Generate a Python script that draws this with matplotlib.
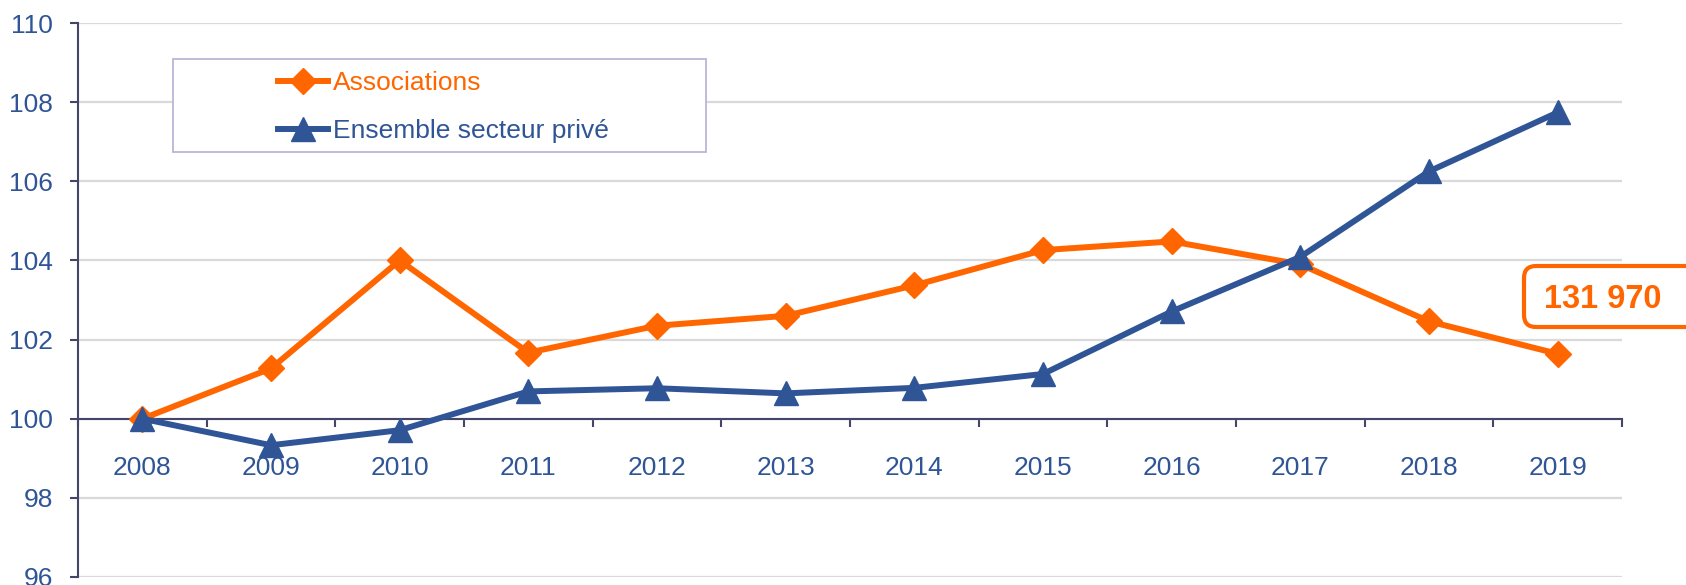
import matplotlib
matplotlib.use("Agg")
import matplotlib.pyplot as plt
from matplotlib.patches import Rectangle, FancyBboxPatch
from matplotlib.transforms import IdentityTransform

years = ['2008', '2009', '2010', '2011', '2012', '2013',
         '2014', '2015', '2016', '2017', '2018', '2019']
associations = [100.0, 101.27, 104.0, 101.67, 102.35, 102.60,
                103.37, 104.26, 104.48, 103.90, 102.46, 101.64]
ensemble = [100.0, 99.33, 99.71, 100.69, 100.77, 100.64,
            100.78, 101.13, 102.71, 104.09, 106.25, 107.74]
callout = '131 970'

orange = '#FF6600'
blue = '#2F5597'
spine_col = '#45456a'

plt.rcParams['font.family'] = ['Liberation Sans', 'DejaVu Sans']

W, H = 1686, 585
fig = plt.figure(figsize=(W / 100, H / 100), dpi=100)
ax = fig.add_axes([78 / W, 8 / H, (1622 - 78) / W, (577 - 23) / H])

x = list(range(len(years)))
ax.plot(x, associations, color=orange, lw=4.3, marker='D', ms=13,
        label='Associations', zorder=3)
ax.plot(x, ensemble, color=blue, lw=4.3, marker='^', ms=17,
        label='Ensemble secteur privé', zorder=4)

ax.set_xlim(-0.5, len(years) - 0.5)
ax.set_ylim(96, 110)
ax.set_yticks(range(96, 111, 2))
ax.yaxis.grid(True, color='#d9d9d9', lw=1.6)
ax.set_axisbelow(True)

for s in ['top', 'right']:
    ax.spines[s].set_visible(False)
ax.spines['bottom'].set_position(('data', 100))
for s in ['left', 'bottom']:
    ax.spines[s].set_color(spine_col)
    ax.spines[s].set_linewidth(1.5)

# ticks between categories, labels centred under each year
ax.set_xticks([i - 0.5 for i in range(len(years) + 1)])
ax.set_xticklabels([])
ax.set_xticks(x, minor=True)
ax.set_xticklabels(years, minor=True)
ax.tick_params(axis='x', which='major', length=6, width=1.5, color=spine_col)
ax.tick_params(axis='x', which='minor', length=0, pad=27, labelsize=19,
               labelcolor=blue)
ax.tick_params(axis='y', length=6, width=1.5, color=spine_col, pad=12,
               labelsize=19, labelcolor=blue)

# legend frame drawn separately (wider than the legend content)
fig.add_artist(Rectangle((173 / W, 1 - 152 / H), 533 / W, 93 / H,
                         transform=fig.transFigure, fc='white',
                         ec='#b8b8d4', lw=1.3))
fig.legend(loc='center left', bbox_to_anchor=(278 / W, 1 - 107 / H),
           frameon=False, fontsize=19, handlelength=1.9,
           handletextpad=0.2, labelspacing=0.9, borderpad=0,
           borderaxespad=0, labelcolor='linecolor')

# callout box on the right edge
fig.add_artist(FancyBboxPatch((1524, H - 327), 200, 61,
                              boxstyle='round,pad=0,rounding_size=12',
                              transform=IdentityTransform(), fc='white',
                              ec=orange, lw=3))
fig.text(1603 / W, 1 - 300 / H, callout, ha='center', va='center',
         fontsize=23.5, fontweight='bold', color=orange)

fig.savefig('out.png', dpi=100)
